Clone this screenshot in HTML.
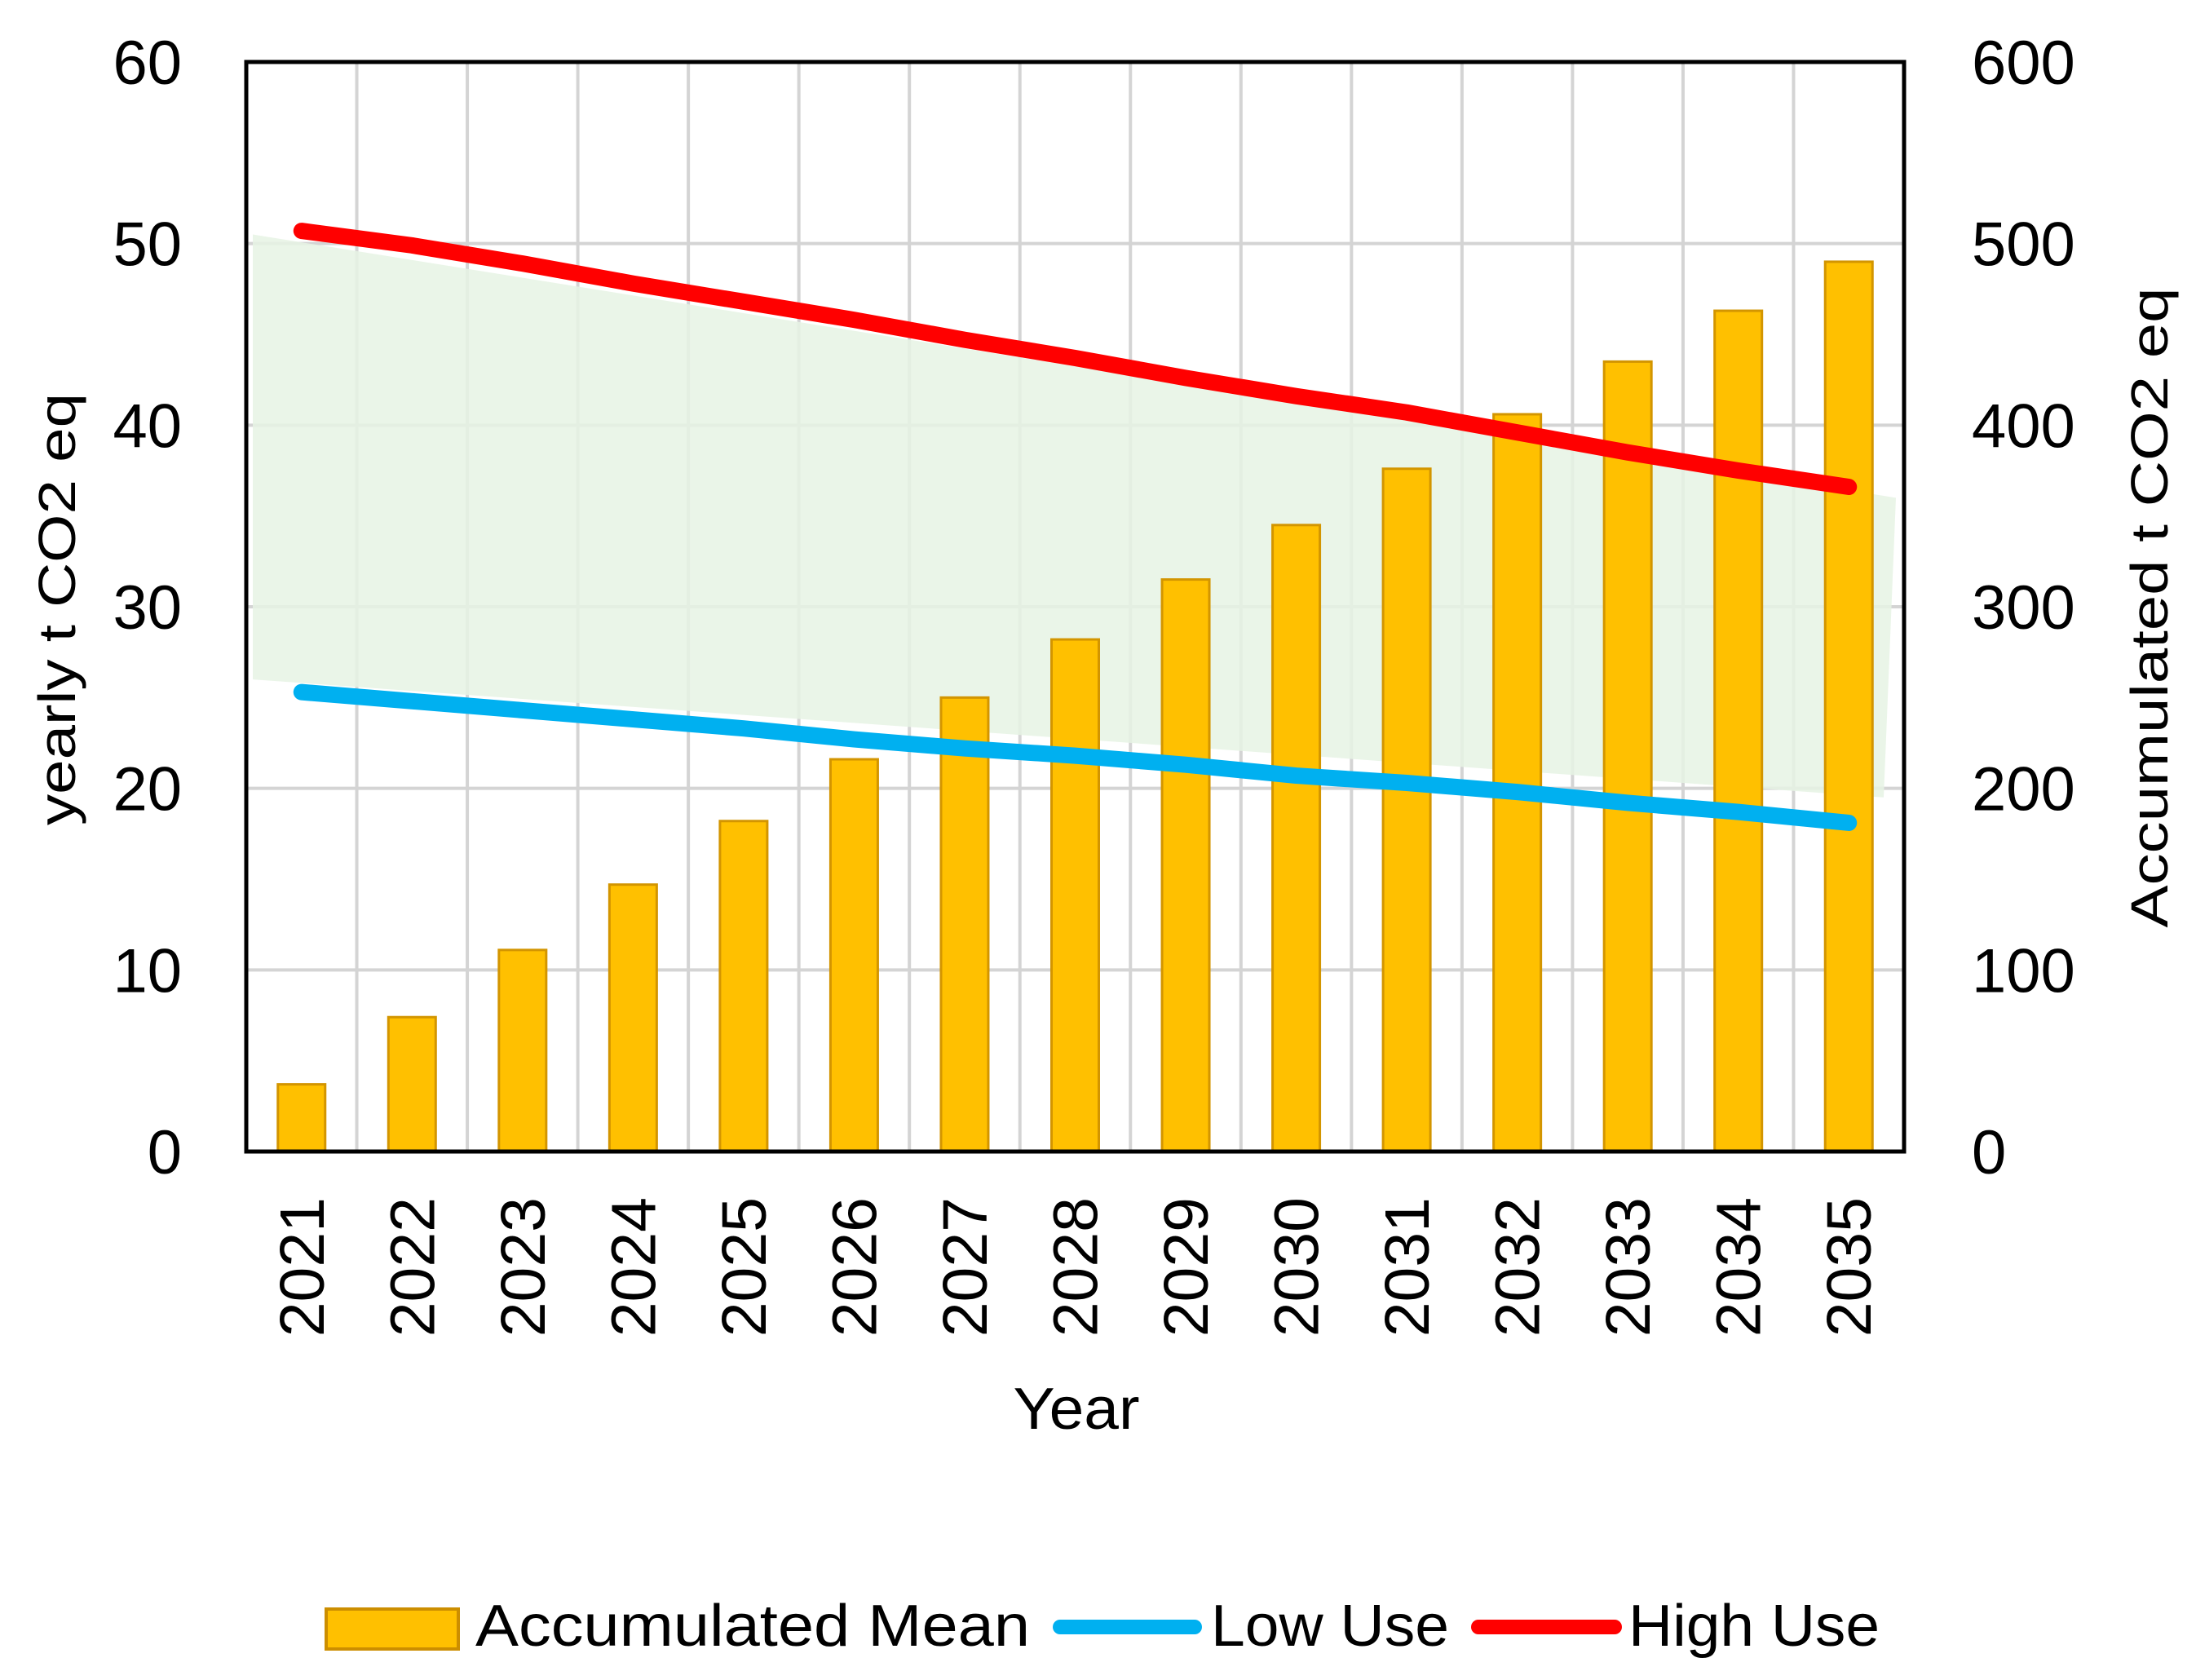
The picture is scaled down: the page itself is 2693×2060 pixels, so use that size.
<!DOCTYPE html>
<html><head><meta charset="utf-8"><style>
html,body{margin:0;padding:0;background:#fff;}
svg{display:block;font-family:"Liberation Sans",sans-serif;}
</style></head><body>
<svg id="chart" width="2693" height="2060" viewBox="0 0 2693 2060" xmlns="http://www.w3.org/2000/svg">
<g id="grid"></g>
<polygon id="band" fill="#e6f3e4" opacity="0.85"></polygon>
<g id="bars"></g>
<g id="lines"></g>
<rect x="302" y="76" width="2033" height="1336" fill="none" stroke="#000" stroke-width="5"/>
<g id="ticks" font-size="76" fill="#000"></g>
<text x="1320" y="1752" font-size="72" text-anchor="middle" textLength="155" lengthAdjust="spacingAndGlyphs">Year</text>
<text transform="translate(92,747) rotate(-90)" font-size="64" text-anchor="middle" textLength="530" lengthAdjust="spacingAndGlyphs">yearly t CO2 eq</text>
<text transform="translate(2658,745) rotate(-90)" font-size="64" text-anchor="middle" textLength="785" lengthAdjust="spacingAndGlyphs">Accumulated t CO2 eq</text>
<g>
  <rect x="400" y="1973" width="162" height="49" fill="#ffc000" stroke="#cc8e00" stroke-width="4"/>
  <text x="583" y="2018" font-size="72" textLength="680" lengthAdjust="spacingAndGlyphs">Accumulated Mean</text>
  <line x1="1300" y1="1995" x2="1465" y2="1995" stroke="#00b0f0" stroke-width="18" stroke-linecap="round"/>
  <text x="1485" y="2018" font-size="72" textLength="292" lengthAdjust="spacingAndGlyphs">Low Use</text>
  <line x1="1813" y1="1995" x2="1980" y2="1995" stroke="#ff0000" stroke-width="18" stroke-linecap="round"/>
  <text x="1997" y="2018" font-size="72" textLength="308" lengthAdjust="spacingAndGlyphs">High Use</text>
</g>
</svg>
<script>
const years = ["2021","2022","2023","2024","2025","2026","2027","2028","2029","2030","2031","2032","2033","2034","2035"];
const accumulated = [37,74,111,147,182,216,250,282,315,345,376,406,435,463,490];
const highUse = [50.7,49.9,48.9,47.8,46.8,45.8,44.7,43.7,42.6,41.6,40.7,39.6,38.5,37.5,36.6];
const lowUse = [25.3,24.8,24.3,23.8,23.3,22.7,22.2,21.8,21.3,20.7,20.3,19.8,19.2,18.7,18.1];
const bandTop = [50.5,36];
const bandBottom = [26,19.5];
const leftTicks = [0,10,20,30,40,50,60];
const rightTicks = [0,100,200,300,400,500,600];

const NS="http://www.w3.org/2000/svg";
const L=302,R=2335,T=76,B=1412;
const bw=(R-L)/years.length;
const xc=i=>L+bw*(i+0.5);
const yL=v=>B-(v/60)*(B-T);
const yR=v=>B-(v/600)*(B-T);
function mk(tag,attrs,parent){const e=document.createElementNS(NS,tag);for(const k in attrs)e.setAttribute(k,attrs[k]);parent.appendChild(e);return e;}

const grid=document.getElementById('grid');
leftTicks.forEach(v=>{const g=mk('line',{x1:L,x2:R,y1:yL(v),y2:yL(v),stroke:'#d4d4d4','stroke-width':4},grid);

});
for(let i=1;i<years.length;i++){const g=mk('line',{x1:L+bw*i,x2:L+bw*i,y1:T,y2:B,stroke:'#d4d4d4','stroke-width':4},grid);

}

const band=document.getElementById('band');
band.setAttribute('points',[[L+8,yL(bandTop[0])],[R-10,yL(bandTop[1])],[R-25,yL(bandBottom[1])],[L+8,yL(bandBottom[0])]].map(p=>p.join(',')).join(' '));

const bars=document.getElementById('bars');
const barW=58;
accumulated.forEach((v,i)=>{const r=mk('rect',{x:xc(i)-barW/2,y:yR(v),width:barW,height:B-yR(v),fill:'#ffc000',stroke:'#d39500','stroke-width':3},bars);

});

const lines=document.getElementById('lines');
function line(vals,color,name){const p=mk('polyline',{points:vals.map((v,i)=>xc(i)+','+yL(v)).join(' '),fill:'none',stroke:color,'stroke-width':20,'stroke-linecap':'round','stroke-linejoin':'round'},lines);

}
line(lowUse,'#00b0f0','low-use-line');
line(highUse,'#ff0000','high-use-line');

const ticks=document.getElementById('ticks');
leftTicks.forEach(v=>{const t=mk('text',{x:223,y:yL(v)+27,'text-anchor':'end'},ticks);t.textContent=v;

});
rightTicks.forEach(v=>{const t=mk('text',{x:2418,y:yR(v)+27,'text-anchor':'start'},ticks);t.textContent=v;

});
years.forEach((y,i)=>{const t=mk('text',{transform:'translate('+(xc(i)+27)+',1468) rotate(-90)','text-anchor':'end','font-size':77},ticks);t.textContent=y;

});
</script>
</body></html>
